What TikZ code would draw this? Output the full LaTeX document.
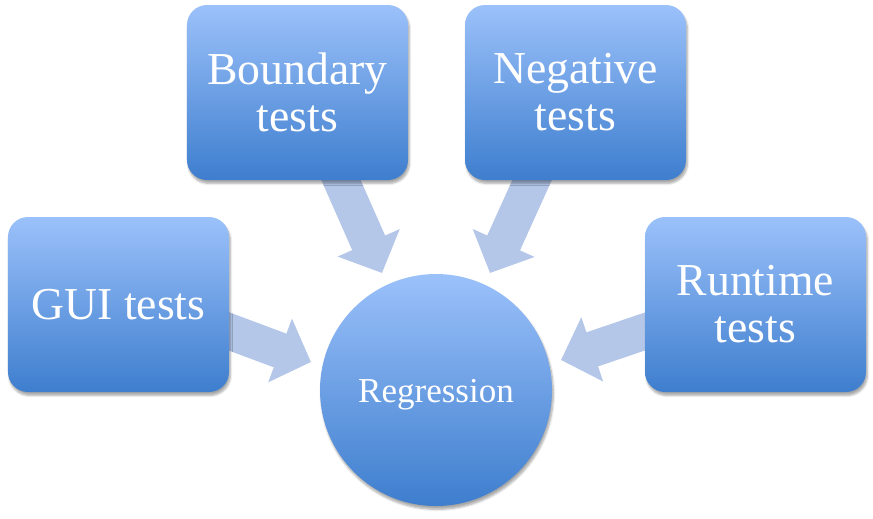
\documentclass[tikz,border=0pt]{standalone}
\usepackage{fontspec}
\setmainfont{Liberation Serif}
\usepackage{tikz}
\usetikzlibrary{calc,arrows.meta,shadows.blur,backgrounds}
\definecolor{boxtop}{RGB}{155,193,250}
\definecolor{boxbot}{RGB}{62,126,206}
\definecolor{flowblue}{RGB}{180,199,233}

\begin{document}
\begin{tikzpicture}[x=0.03cm,y=-0.03cm,
  testbox/.style={rectangle, rounded corners=0.6cm, minimum width=6.63cm, minimum height=5.25cm,
    top color=boxtop, bottom color=boxbot, text=white, align=center,
    font=\fontsize{39}{40}\selectfont,
    blur shadow={shadow xshift=0.04cm, shadow yshift=-0.1cm, shadow opacity=35, shadow blur steps=6}},
  flow/.style={draw=flowblue, line width=1.08cm, -{Triangle[width=1.98cm,length=0.99cm]}}]
\useasboundingbox (0,0) rectangle (873,518);

\node[testbox] (boundary) at (297.5,92.5) {Boundary\\tests};
\node[testbox] (negative) at (575.5,92.5) {Negative\\tests};
\node[testbox] (gui) at (118.5,304.5) {GUI tests};
\node[testbox] (runtime) at (755.5,304.5) {Runtime\\tests};
\node[circle, minimum size=6.96cm, top color=boxtop, bottom color=boxbot, text=white,
  font=\fontsize{29.9}{32}\selectfont, text height=0.96cm,
  blur shadow={shadow xshift=0.04cm, shadow yshift=-0.1cm, shadow opacity=35, shadow blur steps=6}]
  (reg) at (436,390) {Regression};

% arrow tips in front of the circle
\coordinate (tipgui) at ($(reg.center)+(-125,-28)$);
\coordinate (tipbnd) at ($(reg.center)+(-54,-117)$);
\coordinate (tipneg) at ($(reg.center)+(54,-117)$);
\coordinate (tiprun) at ($(reg.center)+(125,-30)$);

\begin{scope}[on background layer]
\draw[flow] ($($(gui.east)+(0,27)$)!-0.6cm!(tipgui)$) -- (tipgui);
\draw[flow] ($($(boundary.south)+(43.5,0)$)!-0.6cm!(tipbnd)$) -- (tipbnd);
\draw[flow] ($($(negative.south)+(-43.5,0)$)!-0.6cm!(tipneg)$) -- (tipneg);
\draw[flow] ($($(runtime.west)+(0,27)$)!-0.6cm!(tiprun)$) -- (tiprun);
\end{scope}
\end{tikzpicture}
\end{document}
